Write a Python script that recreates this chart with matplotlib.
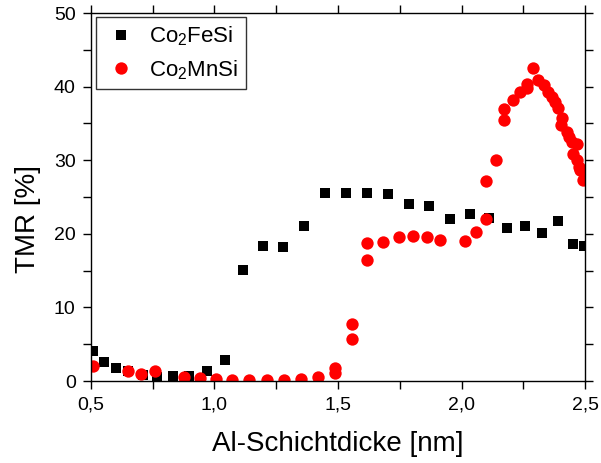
import matplotlib
matplotlib.use("Agg")
import matplotlib.pyplot as plt
from matplotlib.ticker import MultipleLocator, FuncFormatter

plt.rcParams['font.family'] = ['Liberation Sans', 'DejaVu Sans']
plt.rcParams['mathtext.fontset'] = 'custom'
plt.rcParams['mathtext.rm'] = 'Liberation Sans'

# Co2FeSi data (thickness in nm, TMR in %)
fe_thick = [0.509, 0.553, 0.601, 0.651, 0.709, 0.768, 0.833, 0.898, 0.968, 1.043,
            1.117, 1.196, 1.279, 1.361, 1.446, 1.531, 1.617, 1.704, 1.787, 1.870,
            1.953, 2.034, 2.110, 2.185, 2.257, 2.325, 2.389, 2.450, 2.496]
fe_tmr = [4.1, 2.6, 1.8, 1.3, 0.8, 0.6, 0.7, 0.7, 1.4, 2.8,
          15.1, 18.4, 18.2, 21.1, 25.5, 25.5, 25.5, 25.4, 24.0, 23.8,
          22.0, 22.7, 22.2, 20.8, 21.1, 20.1, 21.8, 18.6, 18.4]

# Co2MnSi data
mn_thick = [0.509, 0.651, 0.702, 0.759, 0.878, 0.941, 1.005, 1.072, 1.140, 1.211,
            1.280, 1.349, 1.418, 1.488, 1.488, 1.555, 1.555, 1.619, 1.619, 1.682,
            1.746, 1.804, 1.860, 1.914, 2.013, 2.057, 2.099, 2.098, 2.138, 2.173,
            2.173, 2.207, 2.237, 2.264, 2.267, 2.291, 2.311, 2.334, 2.351, 2.365,
            2.378, 2.392, 2.405, 2.401, 2.426, 2.434, 2.446, 2.467, 2.453, 2.467,
            2.474, 2.480, 2.491]
mn_tmr = [2.1, 1.3, 1.0, 1.3, 0.5, 0.4, 0.3, 0.2, 0.2, 0.2,
          0.2, 0.3, 0.55, 1.7, 1.1, 7.8, 5.7, 18.7, 16.4, 18.9,
          19.6, 19.7, 19.6, 19.2, 19.0, 20.3, 22.0, 27.2, 30.0, 37.0,
          35.4, 38.2, 39.3, 39.8, 40.4, 42.5, 40.9, 40.2, 39.3, 38.6,
          37.9, 37.1, 35.7, 34.8, 33.9, 33.2, 32.5, 32.2, 30.9, 30.0,
          29.1, 28.7, 27.3]

fig = plt.figure(figsize=(6.01, 4.63), dpi=100)
ax = fig.add_axes([0.1514, 0.1771, 0.8220, 0.7948])

ax.plot(fe_thick, fe_tmr, linestyle='none', marker='s', markersize=7.7,
        color='black', markeredgewidth=0, label='Co$_2$FeSi')
ax.plot(mn_thick, mn_tmr, linestyle='none', marker='o', markersize=8.9,
        color='red', markeredgewidth=0, label='Co$_2$MnSi')

ax.set_xlim(0.5, 2.5)
ax.set_ylim(0, 50)
ax.xaxis.set_major_locator(MultipleLocator(0.5))
ax.xaxis.set_minor_locator(MultipleLocator(0.25))
ax.yaxis.set_major_locator(MultipleLocator(10))
ax.yaxis.set_minor_locator(MultipleLocator(5))
ax.xaxis.set_major_formatter(FuncFormatter(lambda v, p: f"{v:.1f}".replace('.', ',')))
ax.yaxis.set_major_formatter(FuncFormatter(lambda v, p: f"{v:.0f}"))

ax.tick_params(which='both', direction='out', length=6, width=1,
               top=True, right=True, labelsize=14, pad=5)
for s in ax.spines.values():
    s.set_linewidth(1)

ax.set_xlabel('Al-Schichtdicke [nm]', fontsize=20, labelpad=13)
ax.set_ylabel('TMR [%]', fontsize=20)
ax.yaxis.set_label_coords(-0.102, 0.44)

leg = ax.legend(loc='upper left', bbox_to_anchor=(0.01, 0.99), fontsize=16,
                frameon=True, fancybox=False, edgecolor='black', borderpad=0.35,
                handletextpad=0.45, borderaxespad=0.0, labelspacing=0.45,
                handlelength=1.6)
leg.get_frame().set_linewidth(1)

fig.savefig('out.png', dpi=100)
